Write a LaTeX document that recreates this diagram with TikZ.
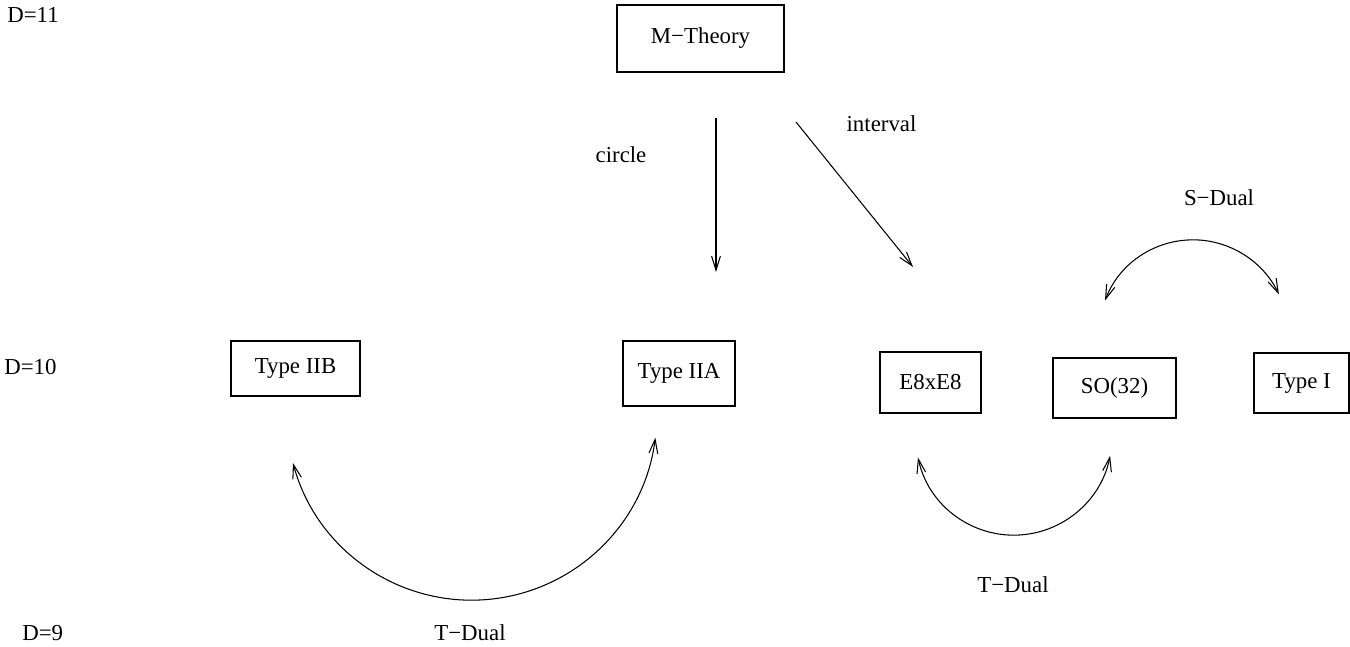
\documentclass[tikz,border=0pt]{standalone}
\usepackage{fontspec}
\setmainfont{Liberation Serif}
\usepackage{tikz}
\usetikzlibrary{arrows.meta,positioning}

\begin{document}
\begin{tikzpicture}[>={Straight Barb[length=8pt,width=5pt]},
    font=\fontsize{13}{15}\selectfont,
    box/.style={draw, line width=0.6pt, inner sep=0pt},
    link/.style={line width=0.6pt}]
    \useasboundingbox (0,0) rectangle (27,-12.92);
    \foreach \x/\y/\n in {0.14/-0.30/11, 0.08/-7.34/10, 0.44/-12.66/9}
        \node[anchor=west, inner sep=0pt] (d\n) at (\x,\y) {D=\n};
    \node[box, minimum width=3.34cm, minimum height=1.34cm] (mth) at (14.01,-0.77) {M−Theory};
    \node[box, minimum width=2.58cm, minimum height=1.10cm] (iib) at (5.91,-7.37) {Type IIB};
    \node[box, minimum width=2.24cm, minimum height=1.30cm] (iia) at (13.58,-7.47) {Type IIA};
    \node[box, minimum width=2.02cm, minimum height=1.22cm] (e8) at (18.61,-7.65) {E8xE8};
    \node[box, minimum width=2.46cm, minimum height=1.20cm] (so) at (22.29,-7.76) {SO(32)};
    \node[box, minimum width=1.90cm, minimum height=1.20cm] (ti) at (26.03,-7.66) {Type I};
    \coordinate (c1) at (14.32,-2.36);
    \coordinate (c2) at (14.32,-5.44);
    \coordinate (i1) at (15.92,-2.44);
    \coordinate (i2) at (18.26,-5.34);
    \coordinate (sd) at (22.10,-6.01);
    \coordinate (td) at (5.86,-9.26);
    \coordinate (tdh) at (18.36,-9.15);
    \draw[link, ->] (c1) -- (c2);
    \draw[link, ->] (i1) -- (i2);
    \node (lcirc) at (12.42,-3.10) {circle};
    \node (lint) at (17.63,-2.48) {interval};
    \draw[link, <->] (sd) arc[start angle=159, end angle=25, radius=1.89];
    \node (lsd) at (24.38,-3.96) {S−Dual};
    \draw[link, <->] (td) arc[start angle=195, end angle=353, radius=3.7];
    \node (ltd) at (9.40,-12.66) {T−Dual};
    \draw[link, <->] (tdh) arc[start angle=192, end angle=349, radius=1.96];
    \node (ltdh) at (20.26,-11.70) {T−Dual};
\end{tikzpicture}
\end{document}
